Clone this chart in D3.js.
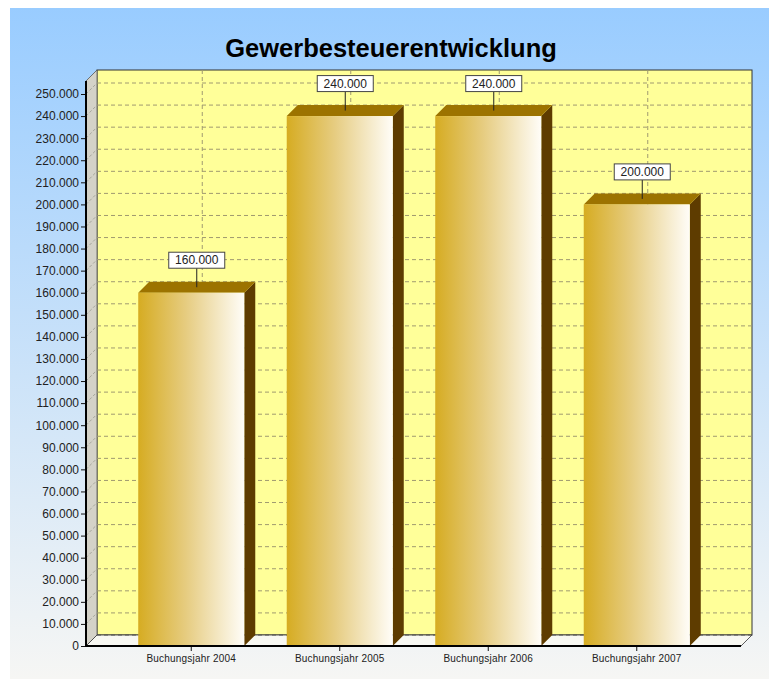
<!DOCTYPE html>
<html>
<head>
<meta charset="utf-8">
<script src="https://cdn.jsdelivr.net/npm/d3@7"></script>
<style>
  body { margin: 0; background: #fff; }
  svg { display: block; }
</style>
</head>
<body>
<script>
var CANVAS_WIDTH = 769;
var CANVAS_HEIGHT = 679;

// chart data
var categories = ["Buchungsjahr 2004", "Buchungsjahr 2005", "Buchungsjahr 2006", "Buchungsjahr 2007"];
var values = [160000, 240000, 240000, 200000];
var yTickValues = [0, 10000, 20000, 30000, 40000, 50000, 60000, 70000, 80000, 90000, 100000,
                   110000, 120000, 130000, 140000, 150000, 160000, 170000, 180000, 190000, 200000,
                   210000, 220000, 230000, 240000, 250000];
var chartTitle = "Gewerbesteuerentwicklung";

// 3d depth offset
var DX = 11, DY = 11;
var plotLeft = 86, plotRight = 741, plotBottom = 646, plotTop = 81;

var de = d3.formatLocale({decimal: ",", thousands: ".", grouping: [3], currency: ["", "€"]});
var fmt = de.format(",d");

var canvas = d3.select("body")
    .append("svg")
    .attr("width", CANVAS_WIDTH)
    .attr("height", CANVAS_HEIGHT);

var defs = canvas.append("defs");

var bg = defs.append("linearGradient")
    .attr("id", "bg").attr("x1", 0).attr("y1", 0).attr("x2", 0).attr("y2", 1);
bg.append("stop").attr("offset", "0%").attr("stop-color", "#99ccff");
bg.append("stop").attr("offset", "100%").attr("stop-color", "#f6f6f4");

var barGrad = defs.append("linearGradient")
    .attr("id", "barGrad").attr("x1", 0).attr("y1", 0).attr("x2", 1).attr("y2", 0);
barGrad.append("stop").attr("offset", "0%").attr("stop-color", "#d6ac22");
barGrad.append("stop").attr("offset", "45%").attr("stop-color", "#e6cc80");
barGrad.append("stop").attr("offset", "100%").attr("stop-color", "#fffdf8");

// background panel
canvas.append("rect")
    .attr("x", 10).attr("y", 8)
    .attr("width", CANVAS_WIDTH - 10).attr("height", CANVAS_HEIGHT - 8)
    .attr("fill", "url(#bg)");

canvas.append("text")
    .attr("x", 391).attr("y", 57)
    .attr("text-anchor", "middle")
    .attr("font-family", "Liberation Sans, Arial, sans-serif")
    .attr("font-weight", "bold")
    .attr("font-size", "25.5px")
    .attr("fill", "#000")
    .text(chartTitle);

var y = d3.scaleLinear().domain([0, 250000]).range([plotBottom, 94]);
var x = d3.scaleBand().domain(categories)
    .range([117, 711])
    .paddingInner(0.286)
    .paddingOuter(0.143);

function pts(arr) { return arr.map(function(p) { return p.join(","); }).join(" "); }

// back wall
canvas.append("rect")
    .attr("x", plotLeft + DX).attr("y", plotTop - DY)
    .attr("width", plotRight - plotLeft).attr("height", plotBottom - plotTop)
    .attr("fill", "#ffff99")
    .attr("stroke", "#333").attr("stroke-width", 1);

// side wall
canvas.append("polygon")
    .attr("points", pts([[plotLeft, plotTop], [plotLeft + DX, plotTop - DY],
                         [plotLeft + DX, plotBottom - DY], [plotLeft, plotBottom]]))
    .attr("fill", "#d4d2c8")
    .attr("stroke", "#555").attr("stroke-width", 0.8);

// floor
canvas.append("polygon")
    .attr("points", pts([[plotLeft, plotBottom], [plotLeft + DX, plotBottom - DY],
                         [plotRight + DX, plotBottom - DY], [plotRight, plotBottom]]))
    .attr("fill", "#f8f8f2")
    .attr("stroke", "#333").attr("stroke-width", 0.8);

// horizontal grid on back wall + side wall
var grid = canvas.append("g");
grid.selectAll("line.h")
    .data(yTickValues)
    .join("line")
    .attr("class", "h")
    .attr("x1", plotLeft + DX).attr("x2", plotRight + DX)
    .attr("y1", function(d) { return y(d) - DY; })
    .attr("y2", function(d) { return y(d) - DY; })
    .attr("stroke", function(d) { return d === 0 ? "#555" : "#a09a70"; })
    .attr("stroke-width", 1)
    .attr("stroke-dasharray", "4,3");

grid.selectAll("line.s")
    .data(yTickValues.filter(function(d) { return d > 0; }))
    .join("line")
    .attr("class", "s")
    .attr("x1", plotLeft).attr("x2", plotLeft + DX)
    .attr("y1", function(d) { return y(d); })
    .attr("y2", function(d) { return y(d) - DY; })
    .attr("stroke", "#9a9a90")
    .attr("stroke-width", 0.8)
    .attr("stroke-dasharray", "3,2");

// vertical grid
grid.selectAll("line.v")
    .data(categories)
    .join("line")
    .attr("class", "v")
    .attr("x1", function(d) { return x(d) + x.bandwidth() / 2 + DX; })
    .attr("x2", function(d) { return x(d) + x.bandwidth() / 2 + DX; })
    .attr("y1", plotTop - DY).attr("y2", plotBottom - DY)
    .attr("stroke", "#a09a70")
    .attr("stroke-width", 1)
    .attr("stroke-dasharray", "4,3");

// bars
var bars = canvas.append("g").selectAll("g")
    .data(categories)
    .join("g");

bars.append("polygon")  // side
    .attr("points", function(d, i) {
        var x1 = x(d) + x.bandwidth(), yt = y(values[i]);
        return pts([[x1, yt], [x1 + DX, yt - DY], [x1 + DX, plotBottom - DY], [x1, plotBottom]]);
    })
    .attr("fill", "#5e3c00");

bars.append("polygon")  // top
    .attr("points", function(d, i) {
        var x0 = x(d), x1 = x(d) + x.bandwidth(), yt = y(values[i]);
        return pts([[x0, yt], [x0 + DX, yt - DY], [x1 + DX, yt - DY], [x1, yt]]);
    })
    .attr("fill", "#9c7300");

bars.append("rect")  // front
    .attr("x", function(d) { return x(d); })
    .attr("y", function(d, i) { return y(values[i]); })
    .attr("width", x.bandwidth())
    .attr("height", function(d, i) { return plotBottom - y(values[i]); })
    .attr("fill", "url(#barGrad)");

// value labels
bars.each(function(d, i) {
    var g = d3.select(this);
    var cx = x(d) + x.bandwidth() / 2 + DX / 2;
    var cy = y(values[i]) - DY / 2;
    var boxW = 56, boxH = 16, gap = 19;
    g.append("line")
        .attr("x1", cx).attr("x2", cx)
        .attr("y1", cy).attr("y2", cy - gap)
        .attr("stroke", "#222").attr("stroke-width", 1);
    g.append("rect")
        .attr("x", cx - boxW / 2).attr("y", cy - gap - boxH)
        .attr("width", boxW).attr("height", boxH)
        .attr("fill", "#fff")
        .attr("stroke", "#444").attr("stroke-width", 1);
    g.append("text")
        .attr("x", cx).attr("y", cy - gap - boxH / 2)
        .attr("dy", ".35em")
        .attr("text-anchor", "middle")
        .attr("font-family", "Liberation Sans, Arial, sans-serif")
        .attr("font-size", "12px")
        .attr("fill", "#222")
        .text(fmt(values[i]));
});

// axes
var yAxis = d3.axisLeft(y)
    .tickValues(yTickValues)
    .tickSize(5)
    .tickPadding(2)
    .tickFormat(fmt);

canvas.append("g")
    .attr("transform", "translate(" + plotLeft + ",0)")
    .call(yAxis)
    .call(function(g) { g.select(".domain").remove(); })
    .call(function(g) {
        g.selectAll("text")
            .attr("font-family", "Liberation Sans, Arial, sans-serif")
            .attr("font-size", "12px")
            .attr("fill", "#222");
        g.selectAll("line").attr("stroke", "#111");
    });

var xAxis = d3.axisBottom(x).tickSize(5).tickPadding(4);
canvas.append("g")
    .attr("transform", "translate(0," + plotBottom + ")")
    .call(xAxis)
    .call(function(g) { g.select(".domain").remove(); })
    .call(function(g) {
        g.selectAll("text")
            .attr("font-family", "Liberation Sans, Arial, sans-serif")
            .attr("font-size", "10px")
            .attr("letter-spacing", "0.2px")
            .attr("fill", "#222");
        g.selectAll("line").attr("stroke", "#111");
    });

// thick front axis lines
canvas.append("line")
    .attr("x1", plotLeft).attr("x2", plotLeft)
    .attr("y1", plotTop).attr("y2", plotBottom + 1)
    .attr("stroke", "#000").attr("stroke-width", 2);
canvas.append("line")
    .attr("x1", plotLeft).attr("x2", plotRight)
    .attr("y1", plotBottom).attr("y2", plotBottom)
    .attr("stroke", "#000").attr("stroke-width", 2);
</script>
</body>
</html>
